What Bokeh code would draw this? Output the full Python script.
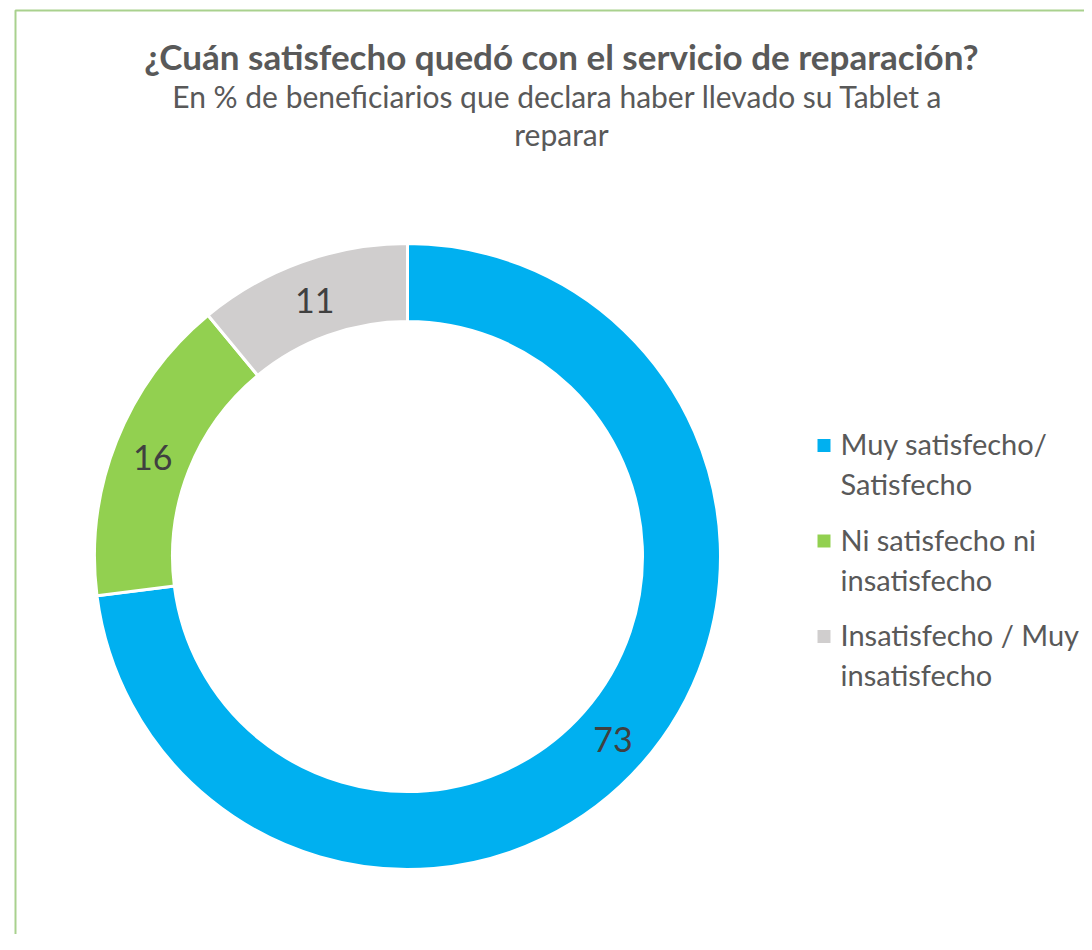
import math
from bokeh.plotting import figure
from bokeh.models import Range1d, ColumnDataSource
from bokeh.core.properties import value
from bokeh.embed import file_html
from bokeh.resources import INLINE

# ---- data ----
categories = ["Muy satisfecho/\nSatisfecho", "Ni satisfecho ni\ninsatisfecho", "Insatisfecho / Muy\ninsatisfecho"]
values = [73, 16, 11]
colors = ["#00B0F0", "#92D050", "#D0CECE"]
title_text = "¿Cuán satisfecho quedó con el servicio de reparación?"
subtitle_lines = ["En % de beneficiarios que declara haber llevado  su Tablet a", "reparar"]

# ---- layout (pixels == data units) ----
W, H = 1084, 934
OFF = H  # data y = OFF - image y
cx, cy = 407, OFF - 556
r_out, r_in = 313, 235
r_lab = 274

p = figure(width=W, height=H, output_backend="svg", toolbar_location=None,
           x_range=Range1d(0, W), y_range=Range1d(0, H),
           x_axis_type=None, y_axis_type=None, min_border=0)
p.grid.visible = False
p.outline_line_color = None
p.background_fill_color = "white"
p.border_fill_color = "white"

# border of chart area (extends beyond the page)
p.quad(left=[15], right=[W + 200], top=[OFF - 10], bottom=[-200],
       fill_color=None, line_color="#A9D18E", line_width=2)

# donut wedges
total = sum(values)
starts, ends, lx, ly = [], [], [], []
cum = 0.0
for v in values:
    a0 = math.pi / 2 - 2 * math.pi * cum / total
    a1 = math.pi / 2 - 2 * math.pi * (cum + v) / total
    am = (a0 + a1) / 2
    starts.append(a0)
    ends.append(a1)
    lx.append(cx + r_lab * math.cos(am))
    ly.append(cy + r_lab * math.sin(am) - 2)
    cum += v

src = ColumnDataSource(dict(start=starts, end=ends, color=colors))
p.annular_wedge(x=cx, y=cy, inner_radius=r_in, outer_radius=r_out,
                start_angle="start", end_angle="end", direction="clock",
                fill_color="color", line_color="white", line_width=3, source=src)

# data labels
p.text(x=lx, y=ly, text=[str(v) for v in values], text_align="center",
       text_baseline="middle", text_color="#404040",
       text_font=value("Lato"), text_font_size="34px")

# title / subtitle (positions are centres of the cap height)
tx = 561
p.text(x=[tx], y=[OFF - 55], text=[title_text], text_align="center",
       text_baseline="middle", text_color="#595959",
       text_font=value("Lato"), text_font_size="35px", text_font_style="bold")
p.text(x=[tx, tx], y=[OFF - 95, OFF - 133], text=subtitle_lines, text_align="center",
       text_baseline="middle", text_color="#595959",
       text_font=value("Lato"), text_font_size="30px")

# legend
sq_x, txt_x = 823.5, 840
base0, step, lh = 452, 95.5, 40
sq_y, lxs, lys, ltxt = [], [], [], []
for i, cat in enumerate(categories):
    b = base0 + i * step
    sq_y.append(OFF - (b - 7))
    for j, line in enumerate(cat.split("\n")):
        lxs.append(txt_x)
        lys.append(OFF - (b - 9 + j * lh))
        ltxt.append(line)
p.rect(x=[sq_x] * len(categories), y=sq_y, width=13, height=13,
       fill_color=colors, line_color=None)
p.text(x=lxs, y=lys, text=ltxt, text_align="left", text_baseline="middle",
       text_color="#595959", text_font=value("Lato"), text_font_size="29px")

open("out.html", "w").write(file_html(p, INLINE))
